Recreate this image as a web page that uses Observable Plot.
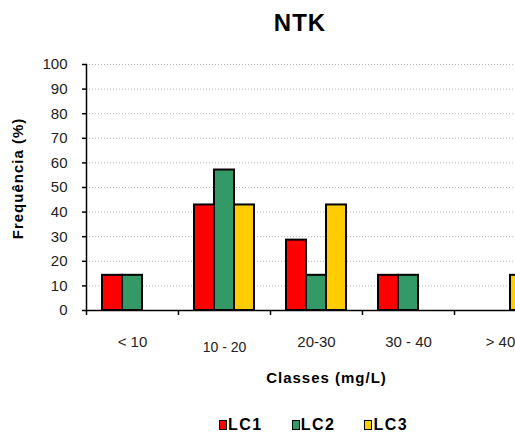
<!DOCTYPE html>
<html>
<head>
<meta charset="utf-8">
<script src="https://cdn.jsdelivr.net/npm/d3@7"></script>
<script src="https://cdn.jsdelivr.net/npm/@observablehq/plot@0.6"></script>
<style>
  html, body { margin: 0; padding: 0; background: #fff; overflow: hidden; }
  #wrap { position: relative; width: 515px; height: 432px; overflow: hidden; font-family: "Liberation Sans", Arial, sans-serif; }
  #title { position: absolute; top: 9px; left: 200px; width: 200px; text-align: center; font-size: 24px; font-weight: bold; letter-spacing: 1px; color: #000; }
  #chart { position: absolute; top: 0; left: 0; }
  #chart svg { max-width: none !important; }
  #legend { position: absolute; top: 416px; left: 219px; display: flex; font-size: 16px; font-weight: bold; letter-spacing: 1.5px; color: #000; }
  .item { display: flex; align-items: center; margin-right: 29px; }
  .sw { width: 6px; height: 8px; border: 1.5px solid #000; margin-right: 1px; }
</style>
</head>
<body>
<div id="wrap">
  <div id="title"></div>
  <div id="chart"></div>
  <div id="legend"></div>
</div>
<script>
const categories = ["< 10", "10 - 20", "20-30", "30 - 40", "> 40"];
const seriesNames = ["LC1", "LC2", "LC3"];
const lc1 = [14.3, 42.9, 28.6, 14.3, 0];
const lc2 = [14.3, 57.1, 14.3, 14.3, 0];
const lc3 = [0, 42.9, 42.9, 0, 14.3];
const colors = ["#FF0000", "#339966", "#FFCC00"];
const yTicks = [0, 10, 20, 30, 40, 50, 60, 70, 80, 90, 100];
const title = "NTK";
const xLabel = "Classes (mg/L)";
const yLabel = "Frequência (%)";

const seriesValues = [lc1, lc2, lc3];
const data = [];
categories.forEach((c, i) => {
  seriesNames.forEach((s, j) => {
    data.push({cat: c, series: s, value: seriesValues[j][i]});
  });
});

const font = "Liberation Sans, Arial, sans-serif";
const W = 560, ML = 86, MR = 14;
const plotW = W - ML - MR;
const bandW = plotW / categories.length;
const sub = d3.scaleBand(seriesNames, [0, bandW]).paddingInner(0).paddingOuter(0.8);

const barMarks = seriesNames.map((s, j) =>
  Plot.barY(data.filter(d => d.series === s && d.value > 0), {
    x: "cat", y: "value", fill: colors[j], stroke: "#000", strokeWidth: 2,
    insetLeft: sub(s), insetRight: bandW - sub(s) - sub.bandwidth()
  })
);

const chart = Plot.plot({
  width: W,
  height: 400,
  marginLeft: ML,
  marginRight: MR,
  marginTop: 64,
  marginBottom: 90,
  style: {fontFamily: font, fontSize: "15px", color: "#222", background: "transparent", maxWidth: "none"},
  x: {domain: categories, padding: 0},
  y: {domain: [0, 100]},
  marks: [
    Plot.gridY(yTicks.filter(d => d > 0), {stroke: "#b8b8b8", strokeOpacity: 1, strokeDasharray: "1,2"}),
    ...barMarks,
    Plot.ruleY([0], {stroke: "#000", strokeWidth: 1.5}),
    Plot.frame({anchor: "left", stroke: "#000", strokeWidth: 1.5}),
    Plot.axisY(yTicks, {tickSize: 4, tickPadding: 15, stroke: "#000", strokeWidth: 1.5, fill: "#222", fontSize: 15, label: null}),
    Plot.axisX({tickSize: 5, dx: -bandW / 2, fill: "none", stroke: "#000", strokeWidth: 1.5, label: null}),
    Plot.axisX(categories.filter(c => c !== "10 - 20"), {tickSize: 0, tickPadding: 26, fill: "#222", fontSize: 15, label: null}),
    Plot.axisX(["10 - 20"], {tickSize: 0, tickPadding: 26, dy: 6, fill: "#222", fontSize: 14, label: null}),
    Plot.text([xLabel], {frameAnchor: "bottom", dy: 72, dx: 10, fontWeight: "bold", fontSize: 15, fill: "#000"}),
    Plot.text([yLabel], {frameAnchor: "middle", textAnchor: "middle", rotate: -90, dx: -(ML + plotW / 2) + 18, dy: -9, fontWeight: "bold", fontSize: 15, fill: "#000"})
  ]
});
chart.querySelectorAll("text").forEach(t => {
  if (t.textContent === xLabel || t.textContent === yLabel) t.setAttribute("letter-spacing", "1");
});
document.getElementById("chart").appendChild(chart);
document.getElementById("title").textContent = title;

const legend = document.getElementById("legend");
seriesNames.forEach((s, i) => {
  const it = document.createElement("div");
  it.className = "item";
  const sw = document.createElement("div");
  sw.className = "sw";
  sw.style.background = colors[i];
  const tx = document.createElement("span");
  tx.textContent = s;
  it.appendChild(sw);
  it.appendChild(tx);
  legend.appendChild(it);
});
</script>
</body>
</html>
